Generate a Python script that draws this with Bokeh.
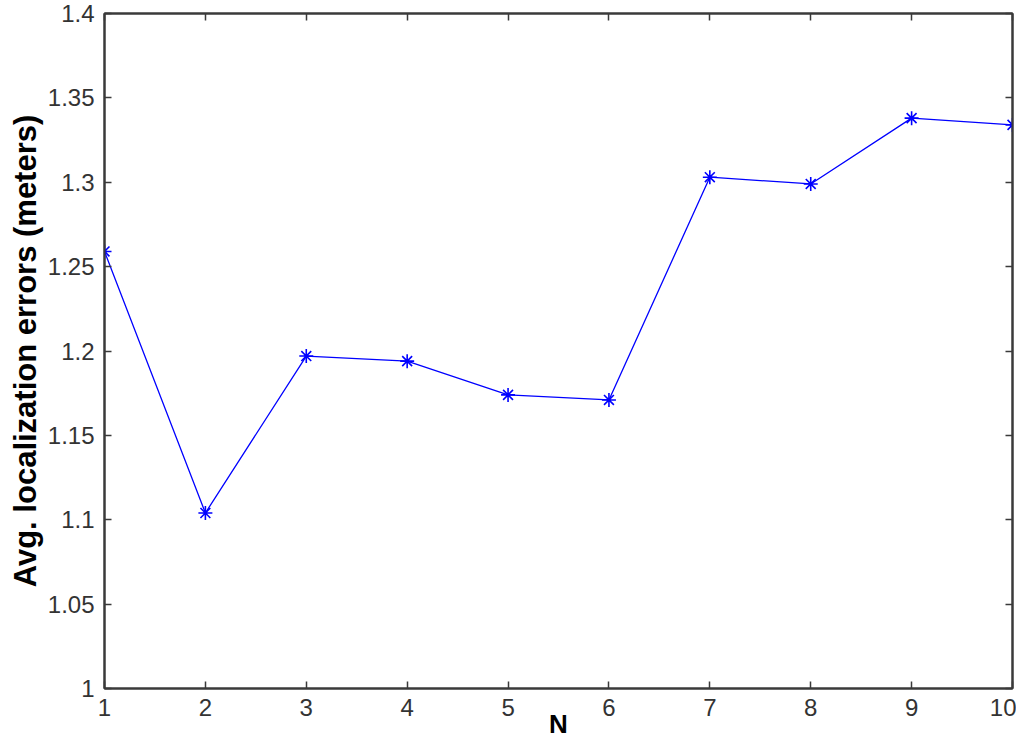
from bokeh.plotting import figure
from bokeh.models import LinearAxis, FixedTicker, Range1d
from bokeh.embed import file_html
from bokeh.resources import INLINE

n_values = [1, 2, 3, 4, 5, 6, 7, 8, 9, 10]
avg_errors = [1.259, 1.104, 1.197, 1.194, 1.174, 1.171, 1.303, 1.299, 1.338, 1.334]
y_ticks = [1.0, 1.05, 1.1, 1.15, 1.2, 1.25, 1.3, 1.35, 1.4]
y_tick_labels = ["1", "1.05", "1.1", "1.15", "1.2", "1.25", "1.3", "1.35", "1.4"]
x_ticks = [1, 2, 3, 4, 5, 6, 7, 8, 9, 10]

FONT = "Liberation Sans"

p = figure(width=1016, height=741, output_backend="svg", toolbar_location=None,
           x_range=Range1d(1, 10), y_range=Range1d(1.0, 1.4),
           min_border_left=104, min_border_right=4, min_border_top=13, min_border_bottom=52)
p.xgrid.visible = False
p.ygrid.visible = False
p.outline_line_color = "#3a3a3a"
p.outline_line_width = 2
p.background_fill_color = "white"
p.border_fill_color = "white"

p.line(n_values, avg_errors, line_color="#0000ff", line_width=1.3)
p.scatter(n_values, avg_errors, marker="asterisk", size=14, line_color="#0000ff", line_width=1.6)

def style(ax, labels=True):
    ax.major_tick_in = 7
    ax.major_tick_out = 0
    ax.minor_tick_in = 0
    ax.minor_tick_out = 0
    ax.axis_line_color = "#3a3a3a"
    ax.axis_line_width = 2
    ax.major_tick_line_color = "#3a3a3a"
    ax.major_tick_line_width = 1.5
    ax.major_label_text_font = FONT
    ax.major_label_text_font_size = "24px"
    ax.major_label_text_color = "#333333"
    if not labels:
        ax.major_label_text_alpha = 0
        ax.major_label_text_font_size = "0px"
        ax.major_label_standoff = 0

xa = p.xaxis[0]
xa.ticker = FixedTicker(ticks=x_ticks)
style(xa)
xa.major_label_standoff = 10
xa.axis_label = "N"
xa.axis_label_text_font = FONT
xa.axis_label_text_font_style = "bold"
xa.axis_label_text_font_size = "26px"
xa.axis_label_standoff = -10
xa.axis_label_text_color = "black"

ya = p.yaxis[0]
ya.ticker = FixedTicker(ticks=y_ticks)
ya.major_label_overrides = {t: l for t, l in zip(y_ticks, y_tick_labels)}
style(ya)
ya.major_label_standoff = 10
ya.axis_label = "Avg. localization errors (meters)"
ya.axis_label_text_font = FONT
ya.axis_label_text_font_style = "bold"
ya.axis_label_text_font_size = "31px"
ya.axis_label_standoff = 2
ya.axis_label_text_color = "black"

ra = LinearAxis(ticker=FixedTicker(ticks=y_ticks))
style(ra, labels=False)
p.add_layout(ra, "right")
ta = LinearAxis(ticker=FixedTicker(ticks=x_ticks))
style(ta, labels=False)
p.add_layout(ta, "above")

open("out.html", "w").write(file_html(p, INLINE))
